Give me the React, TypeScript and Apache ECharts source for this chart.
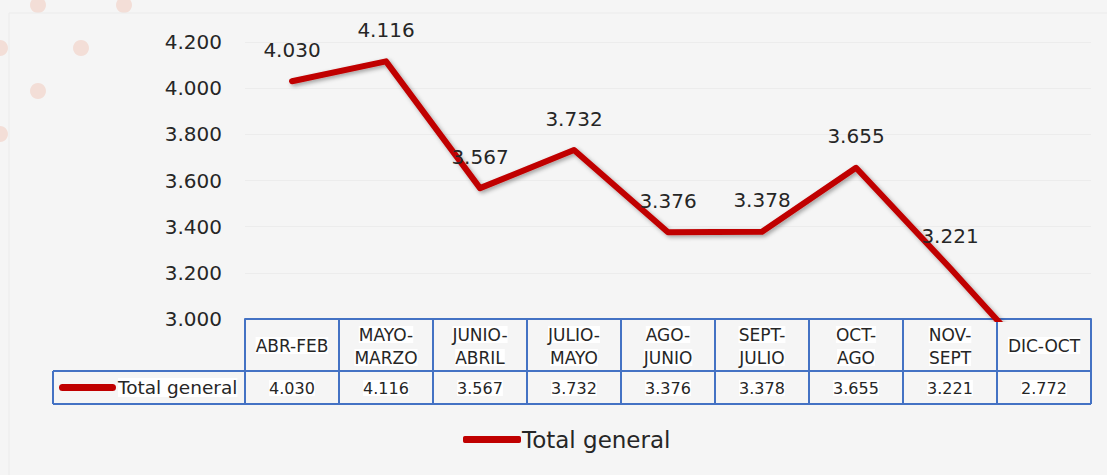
import React, { useEffect, useRef } from "react";
import * as echarts from "echarts";

const categories = [
  "ABR-FEB",
  "MAYO-\nMARZO",
  "JUNIO-\nABRIL",
  "JULIO-\nMAYO",
  "AGO-\nJUNIO",
  "SEPT-\nJULIO",
  "OCT-\nAGO",
  "NOV-\nSEPT",
  "DIC-OCT",
];
const seriesName = "Total general";
const totalGeneral = [4030, 4116, 3567, 3732, 3376, 3378, 3655, 3221, 2772];
const yTicks = { min: 3000, max: 4200, interval: 200 };

const FONT = "DejaVu Sans";
const RED = "#c00000";
const BLUE = "#4472c4";
const TEXT = "#262626";

const fmt = (v: number) => {
  const th = Math.floor(v / 1000);
  const rest = String(Math.round(v % 1000)).padStart(3, "0");
  return th > 0 ? `${th}.${rest}` : rest;
};

export default function App() {
  const ref = useRef<HTMLDivElement>(null);
  useEffect(() => {
    document.body.style.margin = "0";
    const chart = echarts.init(ref.current!, null, { renderer: "svg" });
    const gridLeft = 245;
    const gridRight = 1091;
    const gridTop = 42;
    const gridBottom = 319;
    const row1 = 371;
    const row2 = 404;
    const tableLeft = 53;
    const border = { stroke: BLUE, lineWidth: 2 };
    chart.setOption({
      animation: false,
      backgroundColor: "#f5f5f5",
      textStyle: { fontFamily: FONT },
      grid: {
        left: gridLeft,
        right: 1107 - gridRight,
        top: gridTop,
        height: gridBottom - gridTop,
        containLabel: false,
      },
      legend: {
        left: 458,
        top: 423,
        icon: "roundRect",
        itemWidth: 58,
        itemHeight: 7,
        itemGap: 10,
        textStyle: { fontFamily: FONT, fontSize: 23, color: TEXT, padding: [0, 0, 0, -4] },
        data: [{ name: seriesName, itemStyle: { color: RED } }],
      },
      xAxis: [
        {
          type: "category",
          data: categories,
          boundaryGap: true,
          axisLine: { show: true, lineStyle: { color: BLUE, width: 2 } },
          axisTick: {
            show: true,
            length: row2 - gridBottom,
            interval: 0,
            lineStyle: { color: BLUE, width: 2 },
          },
          axisLabel: {
            interval: 0,
            margin: 4,
            formatter: (v: string) => {
              const parts = v.split("\n");
              if (parts.length === 1) return `{sp|}\n{a|${parts[0]}}`;
              return parts.map((p) => `{a|${p}}`).join("\n");
            },
            rich: {
              a: {
                fontFamily: FONT,
                fontSize: 17,
                lineHeight: 23,
                color: TEXT,
                backgroundColor: "#ffffff",
              },
              sp: { lineHeight: 11, fontSize: 1, height: 11 },
            },
          },
          splitLine: { show: false },
        },
        {
          type: "category",
          data: categories,
          position: "bottom",
          offset: row1 - gridBottom,
          boundaryGap: true,
          axisLine: { show: false },
          axisTick: { show: false },
          axisLabel: {
            interval: 0,
            margin: 7,
            formatter: (_v: string, i: number) => `{b|${fmt(totalGeneral[i])}}`,
            rich: {
              b: {
                fontFamily: FONT,
                fontSize: 16,
                lineHeight: 20,
                color: TEXT,
                backgroundColor: "#ffffff",
              },
            },
          },
        },
      ],
      yAxis: {
        type: "value",
        min: yTicks.min,
        max: yTicks.max,
        interval: yTicks.interval,
        axisLine: { show: false },
        axisTick: { show: false },
        splitLine: { show: true, lineStyle: { color: "#ececec", width: 1 } },
        axisLabel: {
          fontFamily: FONT,
          fontSize: 20,
          color: TEXT,
          margin: 23,
          formatter: (v: number) => fmt(v),
        },
      },
      series: [
        {
          name: seriesName,
          type: "line",
          xAxisIndex: 0,
          data: totalGeneral,
          symbol: "circle",
          symbolSize: 1,
          showSymbol: true,
          clip: true,
          lineStyle: {
            color: RED,
            width: 6,
            cap: "round",
            join: "round",
            shadowColor: "rgba(0,0,0,0.35)",
            shadowBlur: 4,
            shadowOffsetX: 2,
            shadowOffsetY: 2,
          },
          itemStyle: { color: RED },
          label: {
            show: true,
            position: "top",
            distance: 21,
            fontFamily: FONT,
            fontSize: 20,
            color: TEXT,
            formatter: (p: any) => (p.value < yTicks.min ? "" : fmt(p.value)),
          },
        },
      ],
      graphic: [
        { type: "circle", shape: { cx: 38, cy: 5, r: 8 }, style: { fill: "#f3ded7" }, z: -1 },
        { type: "circle", shape: { cx: 124, cy: 5, r: 8 }, style: { fill: "#f3ded7" }, z: -1 },
        { type: "circle", shape: { cx: 81, cy: 48, r: 8 }, style: { fill: "#f3ded7" }, z: -1 },
        { type: "circle", shape: { cx: 38, cy: 91, r: 8 }, style: { fill: "#f3ded7" }, z: -1 },
        { type: "circle", shape: { cx: 0, cy: 48, r: 8 }, style: { fill: "#f3ded7" }, z: -1 },
        { type: "circle", shape: { cx: 0, cy: 134, r: 8 }, style: { fill: "#f3ded7" }, z: -1 },
        {
          type: "line",
          shape: { x1: 9, y1: 13, x2: 1107, y2: 13 },
          style: { stroke: "#ebebeb", lineWidth: 1 },
          z: -1,
        },
        {
          type: "line",
          shape: { x1: 9, y1: 13, x2: 9, y2: 475 },
          style: { stroke: "#ebebeb", lineWidth: 1 },
          z: -1,
        },
        { type: "line", shape: { x1: tableLeft, y1: row1, x2: gridRight, y2: row1 }, style: border, z: 10 },
        { type: "line", shape: { x1: tableLeft, y1: row2, x2: gridRight, y2: row2 }, style: border, z: 10 },
        { type: "line", shape: { x1: tableLeft, y1: row1, x2: tableLeft, y2: row2 }, style: border, z: 10 },
        {
          type: "rect",
          shape: { x: 59, y: (row1 + row2) / 2 - 3.5, width: 57, height: 7, r: 3.5 },
          style: { fill: RED },
          z: 10,
        },
        {
          type: "text",
          x: 118,
          y: (row1 + row2) / 2,
          style: {
            text: seriesName,
            fontFamily: FONT,
            fontSize: 18.5,
            fill: TEXT,
            verticalAlign: "middle",
            align: "left",
            backgroundColor: "#ffffff",
          },
          z: 10,
        },
      ],
    });
    return () => chart.dispose();
  }, []);
  return <div ref={ref} style={{ width: 1107, height: 475 }} />;
}
